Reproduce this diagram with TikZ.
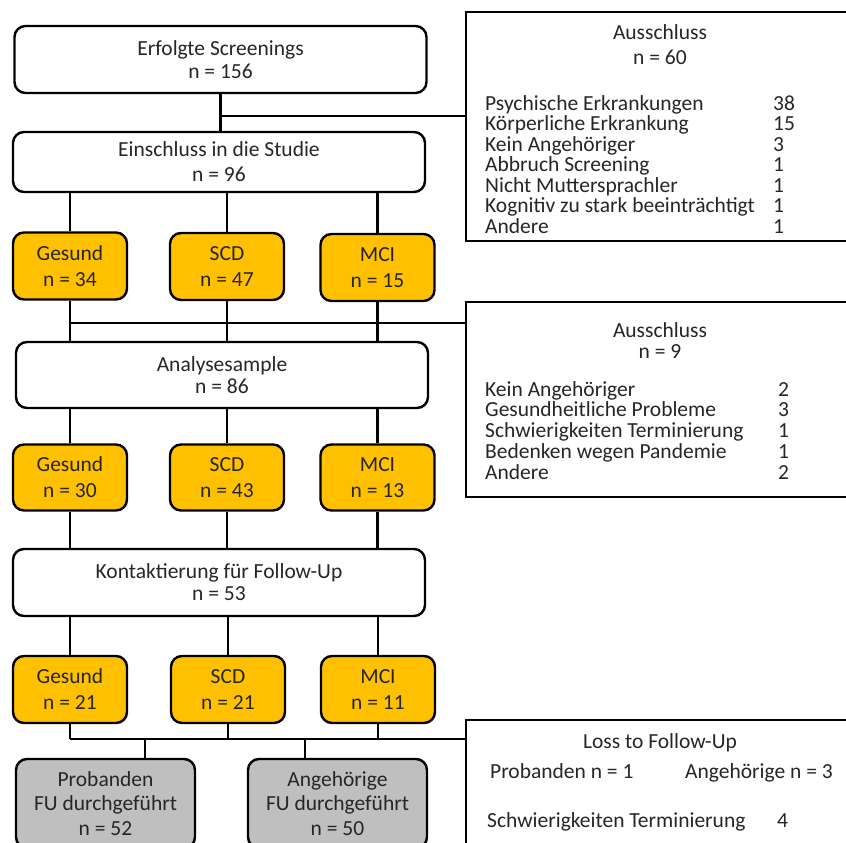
\documentclass[tikz,border=0pt]{standalone}
\usepackage{fontspec}
\setmainfont{Carlito}
\usepackage{xcolor}
\definecolor{ink}{RGB}{38,38,38}
\definecolor{gold}{RGB}{255,192,0}
\definecolor{silver}{RGB}{191,191,191}
\usetikzlibrary{positioning,calc}
\newcommand{\tightlines}{\lineskiplimit=-50pt\relax}
\newcommand{\reason}[3]{\makebox[#1][l]{#2}#3}
\tikzset{
  %% rounded boxes of the flow
  base/.style={draw=black, line width=2.4pt, rounded corners=11pt,
               align=center, text=ink, inner sep=0pt,
               font=\fontsize{21.5}{23}\selectfont},
  stage/.style={base, fill=white, minimum width=412pt, minimum height=66pt},
  group/.style={base, fill=gold, minimum width=114pt, minimum height=67pt,
                font=\fontsize{21.5}{26}\selectfont},
  done/.style={base, fill=silver, minimum width=179pt, minimum height=89pt,
               font=\fontsize{21.5}{24.5}\selectfont},
  %% side boxes with the exclusions
  exbox/.style={draw=black, line width=2.4pt, fill=white, inner sep=0pt},
  extext/.style={text=ink, inner sep=0pt, align=center},
  exlist/.style={text=ink, inner sep=0pt, align=left, anchor=north west,
                 font=\fontsize{21.5}{#1}\selectfont\tightlines},
  link/.style={draw=black, line width=2.4pt},
}

\begin{document}
\begin{tikzpicture}[x=1pt,y=-1pt]
\useasboundingbox (0,0) rectangle (846,843);
\clip (0,0) rectangle (846,843);

% main column
\node[stage, minimum height=67pt] (screen) at (220.5,59.5)
  {Erfolgte Screenings\\n = 156};
\node[stage, minimum height=60pt, font=\fontsize{21.5}{25}\selectfont]
  (einschluss) at (219,162) {Einschluss in die Studie\\n = 96};
\node[group] (g1) at (70,266) {Gesund\\n = 34};
\node[group] (s1) at (227,266.5) {SCD\\n = 47};
\node[group] (m1) at (377.5,267.5) {MCI\\n = 15};
\node[stage, font=\fontsize{21.5}{22}\selectfont] (analyse) at (222,375)
  {Analysesample\\n = 86};
\node[group, minimum height=66pt] (g2) at (70,477.5) {Gesund\\n = 30};
\node[group, minimum height=66pt] (s2) at (227,477.5) {SCD\\n = 43};
\node[group, minimum height=66pt] (m2) at (377.5,477.5) {MCI\\n = 13};
\node[stage, minimum height=67pt, font=\fontsize{21.5}{22}\selectfont]
  (kontakt) at (219,582.5) {Kontaktierung für Follow-Up\\n = 53};
\node[group] (g3) at (70,689.5) {Gesund\\n = 21};
\node[group] (s3) at (228,689.5) {SCD\\n = 21};
\node[group] (m3) at (378,689.5) {MCI\\n = 11};
\node[done] (prob) at (105.5,803.5) {Probanden\\FU durchgeführt\\n = 52};
\node[done] (angeh) at (337.5,803.5) {Angehörige\\FU durchgeführt\\n = 50};

% exclusions
\node[exbox, minimum width=392pt, minimum height=229pt] (exA) at (662,126.5) {};
\node[extext, font=\fontsize{21.5}{25}\selectfont] (exAtitle) at (660,44.5)
  {Ausschluss\\n = 60};
\node[exlist=20.5] (exAlist) at (485,95) {%
  \rule{0pt}{15pt}\reason{288pt}{Psychische Erkrankungen}{38}\\
  \reason{288pt}{Körperliche Erkrankung}{15}\\
  \reason{288pt}{Kein Angehöriger}{3}\\
  \reason{288pt}{Abbruch Screening}{1}\\
  \reason{288pt}{Nicht Muttersprachler}{1}\\
  \reason{288pt}{Kognitiv zu stark beeinträchtigt}{1}\\
  \reason{288pt}{Andere}{1}};

\node[exbox, minimum width=392pt, minimum height=195pt] (exB) at (662,399.5) {};
\node[extext, font=\fontsize{21.5}{21}\selectfont] (exBtitle) at (660,340.5)
  {Ausschluss\\n = 9};
\node[exlist=20.7] (exBlist) at (485,381) {%
  \rule{0pt}{15pt}\reason{293pt}{Kein Angehöriger}{2}\\
  \reason{293pt}{Gesundheitliche Probleme}{3}\\
  \reason{293pt}{Schwierigkeiten Terminierung}{1}\\
  \reason{293pt}{Bedenken wegen Pandemie}{1}\\
  \reason{293pt}{Andere}{2}};

\node[exbox, minimum width=392pt, minimum height=140pt] (exC) at (662,790) {};
\node[extext, font=\fontsize{21.5}{20}\selectfont] (exCtitle) at (660,743)
  {Loss to Follow-Up};
\node[extext, anchor=base west, font=\fontsize{21.5}{20}\selectfont] (exCprob)
  at (490,778) {Probanden n = 1};
\node[extext, anchor=base west, font=\fontsize{21.5}{20}\selectfont] (exCangeh)
  at (685,778) {Angehörige n = 3};
\node[extext, anchor=base west, font=\fontsize{21.5}{20}\selectfont] (exCterm)
  at (487,827) {Schwierigkeiten Terminierung};
\node[extext, anchor=base west, font=\fontsize{21.5}{20}\selectfont] (exCnum)
  at (777,827) {4};

% junctions
\coordinate (j1) at (221,116);
\coordinate (j2) at (0,323);
\coordinate (j3) at (0,739);
\coordinate (d1) at (145,739);
\coordinate (d2) at (305,739);

% connectors
\draw[link] (screen.south) -- (screen.south |- einschluss.north);
\draw[link] (j1) -- (j1 -| exA.west);
\foreach \g in {g1,s1,m1}
  \draw[link] (\g.north |- einschluss.south) -- (\g.north);
\foreach \g in {g1,s1,m1}
  \draw[link] (\g.south) -- (\g.south |- analyse.north);
\draw[link] (g1.south |- j2) -- (j2 -| exB.west);
\foreach \g in {g2,s2,m2}
  \draw[link] (\g.north |- analyse.south) -- (\g.north);
\foreach \g in {g2,s2,m2}
  \draw[link] (\g.south) -- (\g.south |- kontakt.north);
\foreach \g in {g3,s3,m3}
  \draw[link] (\g.north |- kontakt.south) -- (\g.north);
\foreach \g in {g3,s3,m3}
  \draw[link] (\g.south) -- (\g.south |- j3);
\draw[link] (g3.south |- j3) -- (j3 -| exC.west);
\draw[link] (d1) -- (d1 |- prob.north);
\draw[link] (d2) -- (d2 |- angeh.north);
\end{tikzpicture}
\end{document}
